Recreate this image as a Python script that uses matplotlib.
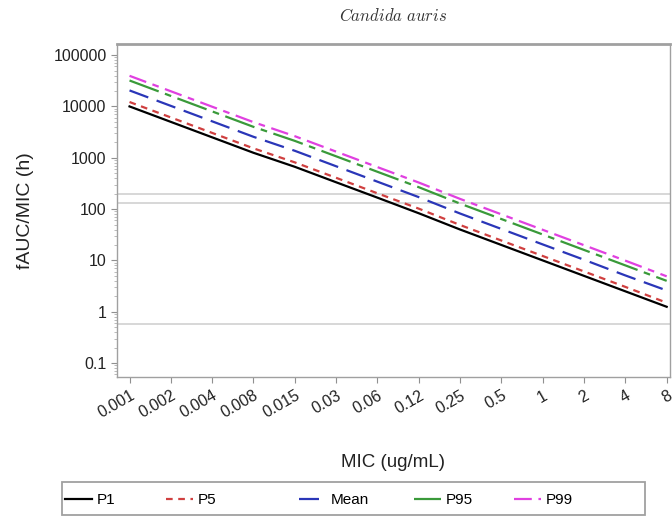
import matplotlib
matplotlib.use('Agg')
import matplotlib.pyplot as plt
from matplotlib.patches import Rectangle
import matplotlib.transforms as mtransforms
import numpy as np

plt.rcParams['font.family'] = ['Liberation Sans', 'DejaVu Sans']
plt.rcParams['mathtext.fontset'] = 'cm'

# MIC categories (ug/mL), equally spaced on the x axis
mic_labels = ['0.001', '0.002', '0.004', '0.008', '0.015', '0.03', '0.06',
              '0.12', '0.25', '0.5', '1', '2', '4', '8']

# fAUC/MIC values
p1 = [10000, 5000, 2500, 1250, 667, 333, 167, 83, 40, 20, 10, 5, 2.5, 1.25]
p5 = [12200, 6100, 3050, 1525, 813, 407, 203, 102, 49, 24.4, 12.2, 6.1, 3.05, 1.5]
mean = [20500, 10250, 5125, 2560, 1367, 683, 342, 171, 82, 41, 20.5, 10.3, 5.1, 2.6]
p95 = [32000, 16000, 8000, 4000, 2133, 1067, 533, 267, 128, 64, 32, 16, 8, 4]
p99 = [39500, 19750, 9875, 4940, 2633, 1317, 658, 329, 158, 79, 39.5, 19.8, 9.9, 4.9]

# reference target lines
targets = [196, 131, 0.58]

series = [
    ('P1', p1, 'black', '-'),
    ('P5', p5, '#d04040', (0, (3, 2.5))),
    ('Mean', mean, '#2a36b8', (0, (9, 4))),
    ('P95', p95, '#3a9a3a', (0, (14, 3, 3, 3))),
    ('P99', p99, '#e040e0', (0, (8, 3, 3, 3))),
]
# legend entry left edges (pixels)
legend_x = [65, 166, 299, 414, 514]

W, H = 672, 519
fig = plt.figure(figsize=(W / 100, H / 100), dpi=100)
ax = fig.add_axes([0.174, 0.274, 0.823, 0.641])

x = np.arange(len(mic_labels))
for t in targets:
    ax.axhline(t, color='#d4d4d4', lw=1.3, zorder=1)

handles = []
for name, vals, col, ls in series:
    h, = ax.plot(x, vals, color=col, ls=ls, lw=1.6, label=name, zorder=3)
    handles.append(h)

ax.set_yscale('log')
ax.set_ylim(10 ** -1.267, 10 ** 5.214)
ax.set_xlim(-0.305, 13.08)
ax.set_yticks([0.1, 1, 10, 100, 1000, 10000, 100000])
ax.set_yticklabels(['0.1', '1', '10', '100', '1000', '10000', '100000'])
ax.set_xticks(x)
ax.set_xticklabels(mic_labels, rotation=30, ha='right', va='top',
                   rotation_mode='anchor')
shift = mtransforms.ScaledTranslation(-5 / 100, 0, fig.dpi_scale_trans)
for lab in ax.get_xticklabels():
    lab.set_transform(lab.get_transform() + shift)

for s in ax.spines.values():
    s.set_color('#a0a0a0')
    s.set_linewidth(1.0)
ax.spines['top'].set_linewidth(2.0)
ax.tick_params(axis='both', which='major', color='#909090', length=4,
               labelsize=11.5, labelcolor='#222222')
ax.tick_params(axis='x', pad=4)
ax.tick_params(axis='y', which='minor', color='#b0b0b0', length=2)

ax.set_ylabel('fAUC/MIC (h)', fontsize=14, color='#222222')
ax.yaxis.set_label_coords(-(117 - 34) / 553, 0.5)
ax.set_xlabel('MIC (ug/mL)', fontsize=13.5, color='#222222')
ax.xaxis.set_label_coords(0.5, -(454 - 377) / 333)
ax.set_title(r'$\mathit{Candida\ auris}$', fontsize=12, color='#333333', pad=17)

for h, lx in zip(handles, legend_x):
    fig.legend(handles=[h], loc='center left', bbox_to_anchor=(lx / W, 1 - 500 / H),
               frameon=False, fontsize=11, handlelength=1.75, handletextpad=0.35,
               borderpad=0, borderaxespad=0)
fig.add_artist(Rectangle((62 / W, 4 / H), 583 / W, 33 / H, transform=fig.transFigure,
                         fill=False, edgecolor='#a0a0a0', lw=1.3))

fig.savefig('out.png', dpi=100)
